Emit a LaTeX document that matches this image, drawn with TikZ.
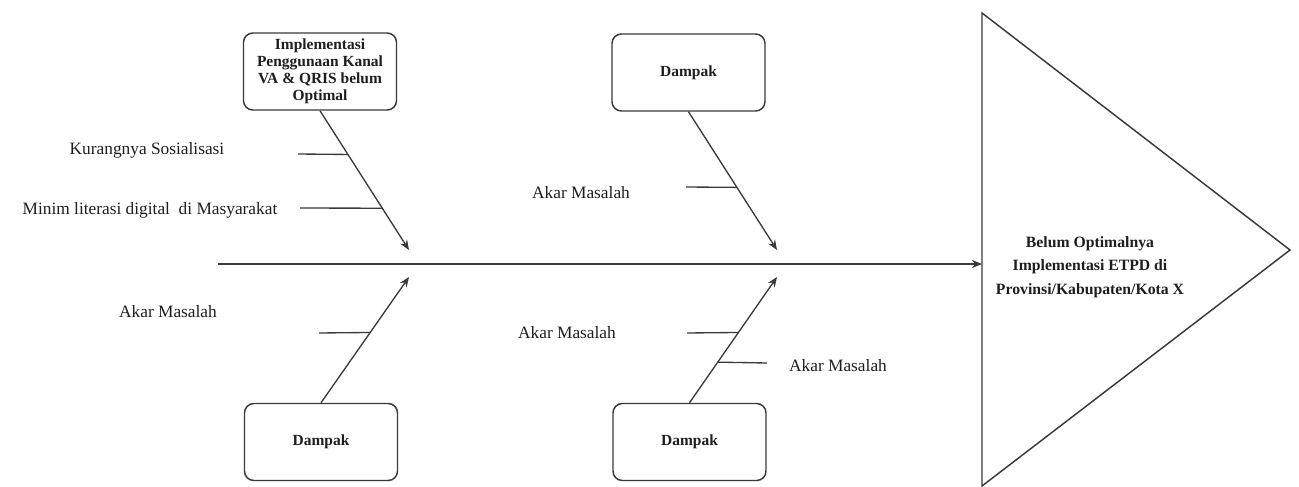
\documentclass[tikz,border=0pt]{standalone}
\usepackage{fontspec}
\setmainfont{Liberation Serif}
\usetikzlibrary{arrows.meta,calc}
\definecolor{linec}{HTML}{3A3A3A}
\definecolor{txtc}{HTML}{1E1E1E}
\begin{document}
\begin{tikzpicture}[x=0.75pt,y=-0.75pt,
  line width=1pt,
  every node/.style={text=txtc},
  effect/.style={draw=linec, rounded corners=7pt, line width=1.1pt,
    minimum width=114.75pt, minimum height=57.75pt, inner sep=2pt,
    align=center, font=\bfseries\fontsize{11.6}{12.8}\selectfont},
  bone/.style={draw=linec, -{Stealth[length=7.5pt,width=6pt]}},
  twig/.style={draw=linec},
  cause/.style={font=\fontsize{13}{15}\selectfont, inner sep=0pt},
  headtxt/.style={align=center, font=\bfseries\fontsize{11.8}{17.6}\selectfont}]
\useasboundingbox (0,0) rectangle (1299,486);

% effect boxes
\node[effect] (e1) at (320,71.5) {Implementasi\\Penggunaan Kanal\\VA \& QRIS belum\\Optimal};
\node[effect] (e2) at (688.5,72.5) {Dampak};
\node[effect] (e3) at (321,442) {Dampak};
\node[effect] (e4) at (689.5,442) {Dampak};

% head of the fish
\coordinate (hTop) at (982,13);
\coordinate (hBot) at (982,486);
\coordinate (hTip) at (1290,250);
\draw[linec, line width=1.1pt] (hTop) -- (hTip) -- (hBot) -- cycle;
\node[headtxt] (head) at (1090,267) {Belum Optimalnya\\Implementasi ETPD di\\Provinsi/Kabupaten/Kota X};

% spine
\coordinate (sStart) at (218,264);
\coordinate (sEnd) at (982,264);
\draw[bone] (sStart) -- (sEnd);

% bones ending near the spine
\coordinate (t1) at (409,250);
\coordinate (t2) at (777,250);
\coordinate (t3) at (409,277);
\coordinate (t4) at (777,277);
\draw[bone] (e1.south) -- (t1);
\draw[bone] (e2.south) -- (t2);
\draw[bone] (e3.north) -- (t3);
\draw[bone] (e4.north) -- (t4);

% twigs
\coordinate (c1) at (298,154);
\coordinate (c2) at (300,208);
\coordinate (c3) at (686,187);
\coordinate (c4) at (319,333);
\coordinate (c5) at (687,333);
\coordinate (c6) at (767,363);
\draw[twig] (c1) -- ($(e1.south)!0.314!(t1)$);
\draw[twig] (c2) -- ($(e1.south)!0.70!(t1)$);
\draw[twig] (c3) -- ($(e2.south)!0.547!(t2)$);
\draw[twig] (c4) -- ($(e3.north)!0.559!(t3)$);
\draw[twig] (c5) -- ($(e4.north)!0.559!(t4)$);
\draw[twig] (c6) -- ($(e4.north)!0.323!(t4)$);

% cause labels
\node[cause] (l1) at (147,150) {Kurangnya Sosialisasi};
\node[cause] (l2) at (150,210) {Minim literasi digital\ \ di Masyarakat};
\node[cause] (l3) at (581,193) {Akar Masalah};
\node[cause] (l4) at (168,312) {Akar Masalah};
\node[cause] (l5) at (567,333) {Akar Masalah};
\node[cause] (l6) at (838,366) {Akar Masalah};
\end{tikzpicture}
\end{document}
